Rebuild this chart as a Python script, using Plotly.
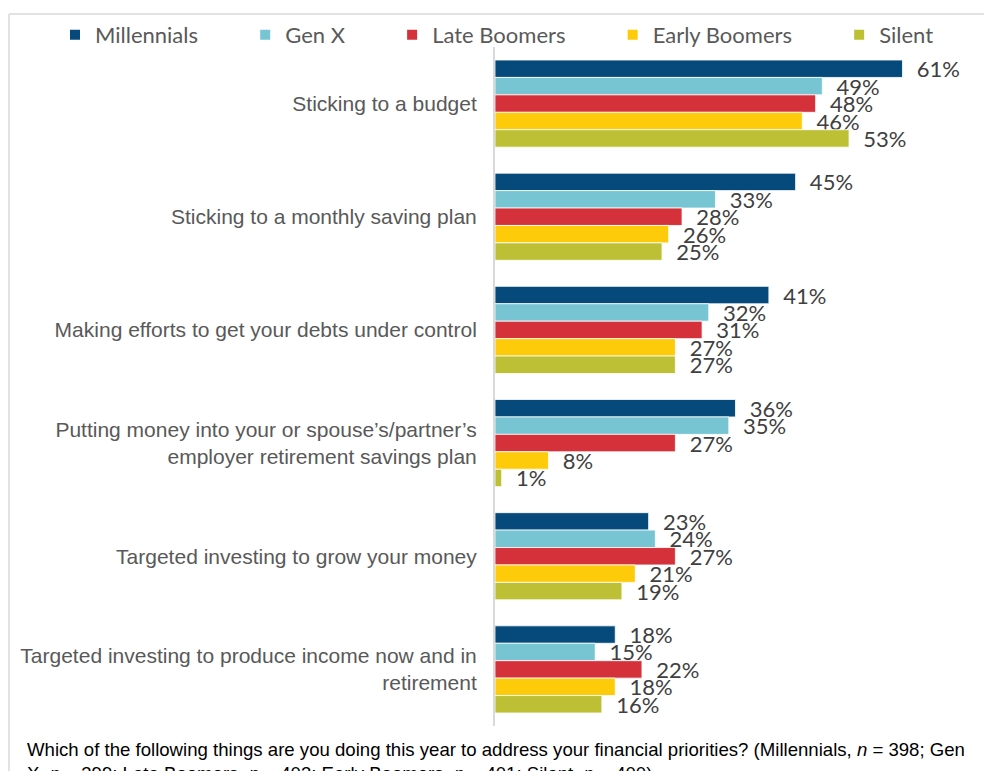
import plotly.graph_objects as go

categories = [
    "Sticking to a budget",
    "Sticking to a monthly saving plan",
    "Making efforts to get your debts under control",
    "Putting money into your or spouse’s/partner’s<br>employer retirement savings plan",
    "Targeted investing to grow your money",
    "Targeted investing to produce income now and in<br>retirement",
]
series_names = ["Millennials", "Gen X", "Late Boomers", "Early Boomers", "Silent"]
millennials = [61, 45, 41, 36, 23, 18]
gen_x = [49, 33, 32, 35, 24, 15]
late_boomers = [48, 28, 31, 27, 27, 22]
early_boomers = [46, 26, 27, 8, 21, 18]
silent = [53, 25, 27, 1, 19, 16]
colors = ["#054A7B", "#77C4D3", "#D4313A", "#FDCB0A", "#BDC035"]

footnote = (
    "Which of the following things are you doing this year to address your financial priorities? "
    "(Millennials, <i>n</i> = 398; Gen<br>X, <i>n</i> = 399; Late Boomers, <i>n</i> = 403; "
    "Early Boomers, <i>n</i> = 401; Silent, <i>n</i> = 400)"
)

# la page HTML ajoute une marge de 8 px autour de la figure
OFF = 8
W, H = 992 - OFF, 771 - OFF
M = dict(l=495 - OFF, r=7, t=46 - OFF, b=45)
PW = W - M["l"] - M["r"]
PH = H - M["t"] - M["b"]


def px_x(px):
    """Abscisse en pixels de la page -> coordonnée paper."""
    return (px - OFF - M["l"]) / PW


def px_y(py):
    """Ordonnée en pixels de la page -> coordonnée paper."""
    return (H - M["b"] - (py - OFF)) / PH


GRAY = "#595959"
NB = "\u00a0"
LEGEND_PAD = NB * 7 + "\u2009"

fig = go.Figure()
for name, vals, col in zip(series_names,
                           [millennials, gen_x, late_boomers, early_boomers, silent],
                           colors):
    fig.add_bar(
        name=name + LEGEND_PAD, y=categories, x=vals, orientation="h",
        marker=dict(color=col, line=dict(color="#ffffff", width=0.8)),
        text=[f"{NB * 2}{v}%" for v in vals],
        textposition="outside", constraintext="none", cliponaxis=False,
        textfont=dict(family="Lato, Open Sans, sans-serif", size=22, color="#404040"),
        hovertemplate=f"{name}: %{{x}}%<extra></extra>",
    )

fig.update_layout(
    width=W, height=H, margin=M,
    barmode="group", bargap=0.23, bargroupgap=0,
    plot_bgcolor="white", paper_bgcolor="white",
    font=dict(family="Liberation Sans, Arial, sans-serif", color=GRAY),
    legend=dict(
        orientation="h", x=px_x(55), y=px_y(35), xanchor="left", yanchor="middle",
        font=dict(family="Lato, Open Sans, sans-serif", size=22, color=GRAY),
        itemsizing="constant", traceorder="normal", bgcolor="rgba(0,0,0,0)",
    ),
)
fig.update_xaxes(range=[0, PW / 6.68], visible=False)
fig.update_yaxes(
    autorange="reversed", showline=True, linecolor="#D9D9D9", linewidth=2,
    ticks="", ticklabelstandoff=12,
    tickfont=dict(family="Liberation Sans, Arial, sans-serif", size=21, color=GRAY),
)

# cadre du graphique (bord gris clair en haut et à gauche)
frame = dict(color="#D9D9D9", width=1.5)
fig.add_shape(type="line", xref="paper", yref="paper",
              x0=px_x(9), x1=px_x(1000), y0=px_y(13), y1=px_y(13), line=frame)
fig.add_shape(type="line", xref="paper", yref="paper",
              x0=px_x(9), x1=px_x(9), y0=px_y(13), y1=px_y(780), line=frame)

fig.add_annotation(
    text=footnote, xref="paper", yref="paper", x=px_x(25), y=px_y(737),
    xanchor="left", yanchor="top", align="left", showarrow=False,
    font=dict(family="Liberation Sans, Arial, sans-serif", size=18.6, color="#000000"),
)

fig.write_html("out.html")
